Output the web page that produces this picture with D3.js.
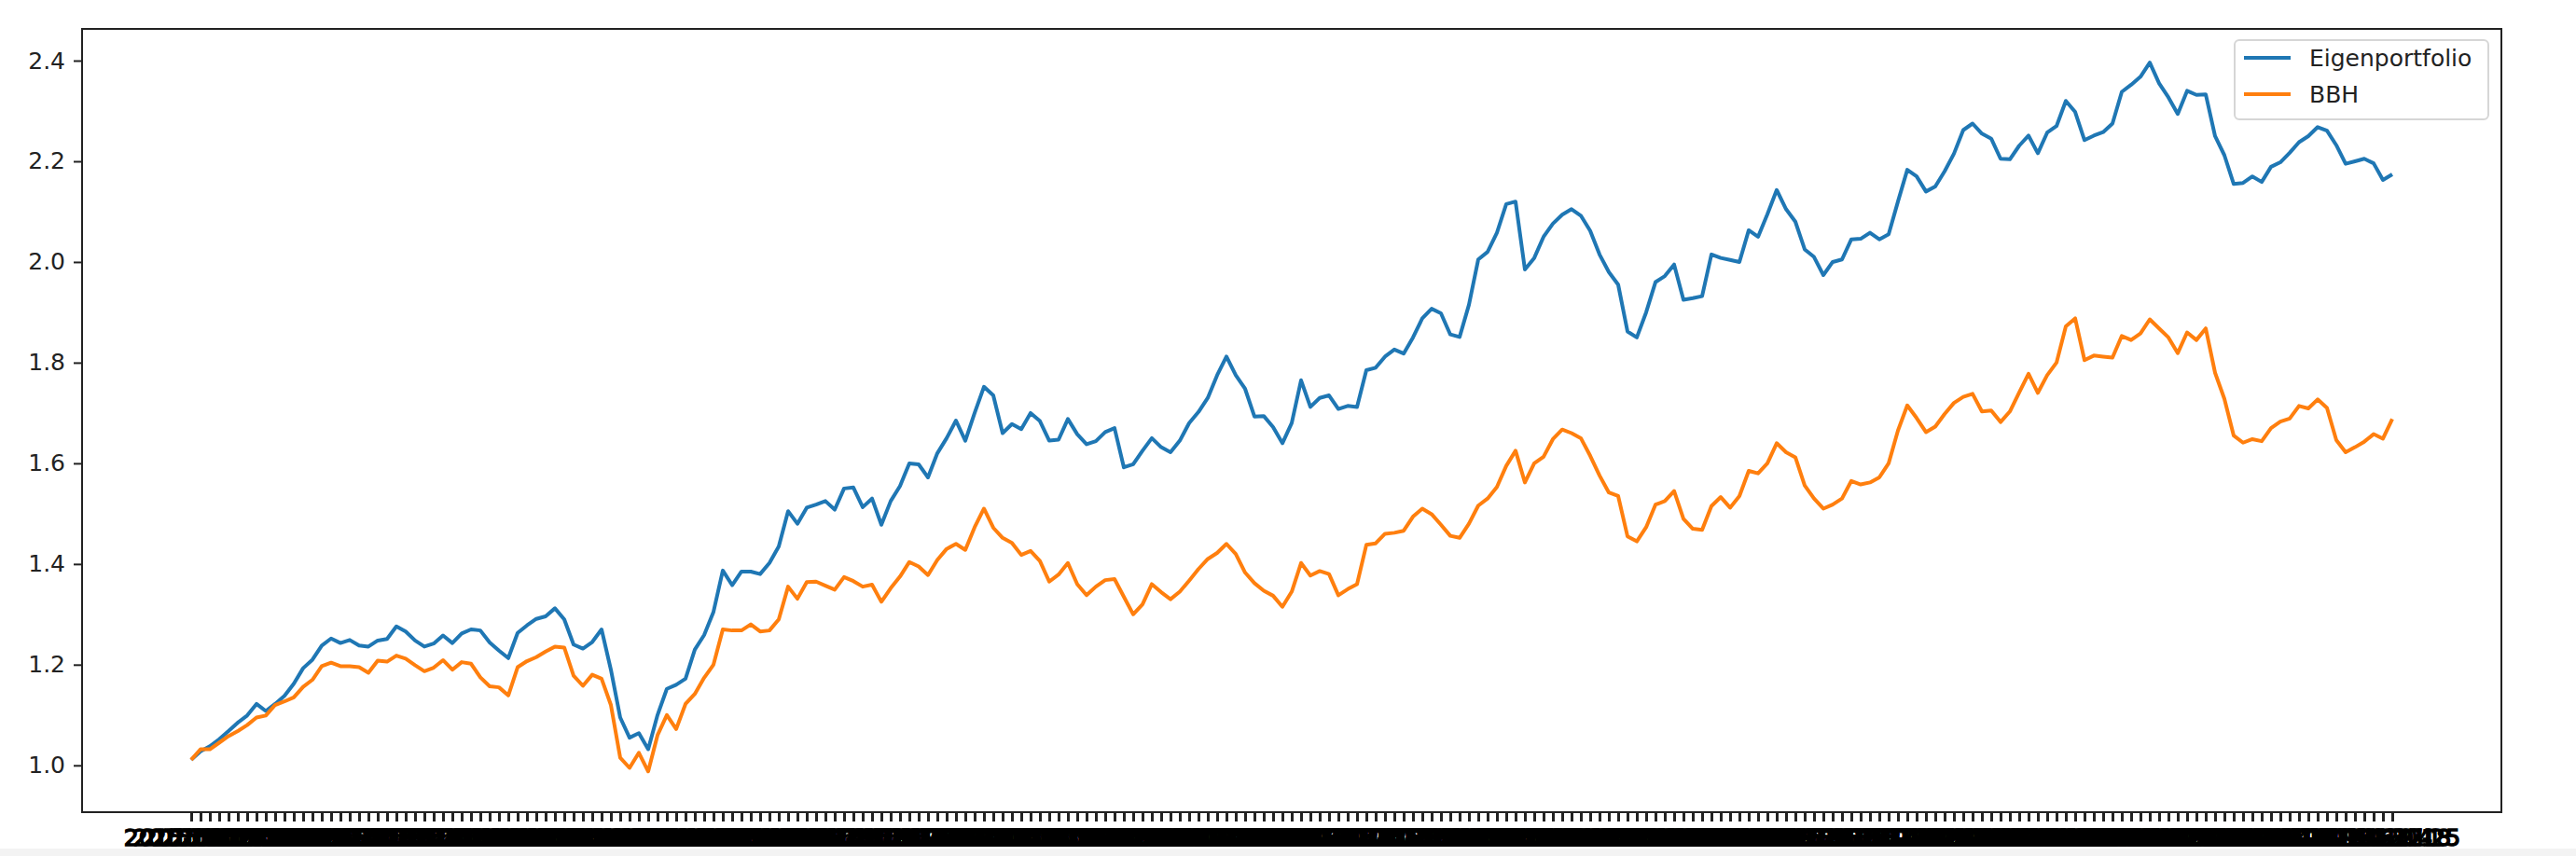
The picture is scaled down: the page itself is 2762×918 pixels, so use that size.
<!DOCTYPE html>
<html>
<head>
<meta charset="utf-8">
<script src="https://cdn.jsdelivr.net/npm/d3@7"></script>
<style>
    body { margin: 0; background: #fff; }
    text { font-family: "DejaVu Sans", sans-serif; }
</style>
</head>
<body>
<script>
// series names + colours (matplotlib defaults)
let names = ["Eigenportfolio", "BBH"];
let colors = ["#1f77b4", "#ff7f0e"];

// cumulative value, one point per week
let eigen = [
    1.011,1.028,1.038,1.052,1.068,1.085,1.099,1.122,1.108,1.122,
    1.138,1.162,1.193,1.210,1.238,1.252,1.243,1.249,1.238,1.236,
    1.248,1.251,1.276,1.266,1.248,1.236,1.242,1.258,1.243,1.262,
    1.270,1.268,1.244,1.228,1.213,1.263,1.278,1.291,1.296,1.312,
    1.290,1.240,1.232,1.245,1.270,1.190,1.095,1.055,1.064,1.032,
    1.100,1.152,1.160,1.172,1.230,1.259,1.305,1.387,1.358,1.385,
    1.385,1.380,1.402,1.435,1.505,1.480,1.512,1.518,1.525,1.508,
    1.550,1.552,1.513,1.530,1.478,1.525,1.555,1.600,1.598,1.572,
    1.620,1.650,1.685,1.645,1.700,1.752,1.735,1.660,1.678,1.668,
    1.700,1.684,1.645,1.647,1.688,1.658,1.638,1.644,1.662,1.670,
    1.592,1.598,1.625,1.650,1.632,1.622,1.645,1.680,1.702,1.730,
    1.775,1.812,1.775,1.748,1.693,1.694,1.672,1.640,1.680,1.765,
    1.712,1.730,1.735,1.708,1.714,1.712,1.785,1.790,1.812,1.826,
    1.818,1.850,1.888,1.907,1.898,1.856,1.851,1.915,2.005,2.020,
    2.058,2.115,2.120,1.985,2.008,2.050,2.076,2.094,2.105,2.092,
    2.062,2.015,1.980,1.955,1.862,1.850,1.900,1.960,1.972,1.995,
    1.925,1.928,1.932,2.015,2.008,2.004,2.000,2.063,2.050,2.095,
    2.143,2.105,2.080,2.025,2.010,1.974,2.000,2.005,2.045,2.046,
    2.058,2.045,2.055,2.120,2.183,2.170,2.140,2.150,2.180,2.215,
    2.262,2.275,2.255,2.245,2.205,2.204,2.231,2.251,2.216,2.257,
    2.270,2.320,2.298,2.242,2.251,2.258,2.275,2.338,2.352,2.368,
    2.396,2.355,2.327,2.294,2.340,2.332,2.333,2.250,2.212,2.155,
    2.157,2.170,2.159,2.189,2.198,2.217,2.238,2.250,2.268,2.261,
    2.232,2.195,2.200,2.205,2.196,2.163,2.174
];

let bbh = [
    1.011,1.032,1.032,1.045,1.058,1.068,1.080,1.095,1.099,1.120,
    1.127,1.135,1.156,1.170,1.197,1.204,1.197,1.197,1.195,1.184,
    1.208,1.206,1.218,1.212,1.199,1.187,1.194,1.209,1.190,1.205,
    1.202,1.175,1.157,1.155,1.139,1.195,1.207,1.215,1.226,1.236,
    1.234,1.178,1.158,1.180,1.172,1.120,1.015,0.995,1.025,0.988,
    1.060,1.100,1.072,1.122,1.142,1.174,1.200,1.270,1.268,1.268,
    1.280,1.266,1.268,1.290,1.355,1.331,1.364,1.365,1.357,1.349,
    1.374,1.366,1.355,1.359,1.325,1.352,1.375,1.404,1.395,1.378,
    1.408,1.430,1.440,1.428,1.473,1.510,1.472,1.452,1.442,1.418,
    1.426,1.406,1.365,1.379,1.402,1.360,1.338,1.355,1.368,1.370,
    1.335,1.300,1.320,1.360,1.344,1.330,1.345,1.367,1.390,1.410,
    1.422,1.440,1.420,1.383,1.362,1.347,1.337,1.315,1.345,1.402,
    1.377,1.386,1.380,1.338,1.350,1.360,1.438,1.441,1.460,1.462,
    1.466,1.494,1.510,1.499,1.478,1.456,1.452,1.480,1.516,1.530,
    1.553,1.595,1.625,1.562,1.600,1.613,1.648,1.667,1.660,1.650,
    1.615,1.576,1.542,1.535,1.455,1.445,1.473,1.518,1.525,1.545,
    1.490,1.470,1.468,1.515,1.533,1.512,1.535,1.585,1.580,1.600,
    1.640,1.622,1.612,1.556,1.530,1.510,1.518,1.530,1.565,1.558,
    1.562,1.572,1.600,1.665,1.715,1.690,1.662,1.673,1.698,1.720,
    1.732,1.738,1.703,1.705,1.682,1.703,1.741,1.778,1.740,1.775,
    1.800,1.872,1.888,1.805,1.814,1.812,1.810,1.853,1.845,1.858,
    1.886,1.868,1.850,1.819,1.860,1.845,1.868,1.780,1.728,1.655,
    1.641,1.648,1.644,1.670,1.683,1.689,1.714,1.709,1.727,1.710,
    1.646,1.622,1.632,1.643,1.658,1.649,1.688
];

let yTicks = [1.0, 1.2, 1.4, 1.6, 1.8, 2.0, 2.2, 2.4];

// x categories: weekly date strings (unreadable in the original, they overlap)
let fmt = d3.timeFormat("%Y-%m-%d");
let dates = [];
for (let i = 0; i < eigen.length; i++) {
    dates.push(fmt(d3.timeDay.offset(new Date(2015, 5, 17), i * 7)));
}

let w = 2762;
let h = 918;
let padL = 88, padR = 2682, padT = 31, padB = 871;

let svg = d3.select("body")
    .append("svg")
    .attr("width", w)
    .attr("height", h);

svg.append("rect")
    .attr("width", w)
    .attr("height", h)
    .attr("fill", "#fff");

// faint grey strip at the bottom of the screenshot
svg.append("rect")
    .attr("x", 0)
    .attr("y", 910)
    .attr("width", w)
    .attr("height", h - 910)
    .attr("fill", "#f3f3f3");

let x = d3.scalePoint()
    .domain(dates)
    .range([padL, padR])
    .padding(11.7);

let y = d3.scaleLinear()
    .domain([0.907, 2.463])
    .range([padB, padT]);

// y axis
let yAxis = svg.append("g")
    .attr("transform", "translate(" + padL + ",0)")
    .call(d3.axisLeft(y).tickValues(yTicks).tickFormat(d3.format(".1f"))
        .tickSize(9).tickPadding(9));
yAxis.select(".domain").remove();
yAxis.selectAll("line").attr("stroke", "#222").attr("stroke-width", 2);
yAxis.selectAll("text")
    .attr("font-size", "25px")
    .attr("font-family", "DejaVu Sans")
    .attr("fill", "#222");

// x axis: every category gets a tick + label, like the original
let xAxis = svg.append("g")
    .attr("transform", "translate(0," + padB + ")")
    .call(d3.axisBottom(x).tickSize(10).tickPadding(8));
xAxis.select(".domain").remove();
xAxis.selectAll("line").attr("stroke", "#222").attr("stroke-width", 3);
xAxis.selectAll("text")
    .attr("font-size", "25px")
    .attr("font-family", "DejaVu Sans")
    .attr("fill", "#000")
    .attr("stroke", "#000")
    .attr("stroke-width", 1.5);

// lines
let series = [eigen, bbh];
let line = d3.line()
    .x(function(d, i) { return x(dates[i]); })
    .y(function(d) { return y(d); });

for (let k = 0; k < series.length; k++) {
    svg.append("path")
        .datum(series[k])
        .attr("fill", "none")
        .attr("stroke", colors[k])
        .attr("stroke-width", 4)
        .attr("stroke-linejoin", "round")
        .attr("d", line);
}

// frame
svg.append("rect")
    .attr("x", padL)
    .attr("y", padT)
    .attr("width", padR - padL)
    .attr("height", padB - padT)
    .attr("fill", "none")
    .attr("stroke", "#222")
    .attr("stroke-width", 2);

// legend
let lg = svg.append("g").attr("transform", "translate(2396,43)");
lg.append("rect")
    .attr("width", 272)
    .attr("height", 85)
    .attr("rx", 5)
    .attr("ry", 5)
    .attr("fill", "#fff")
    .attr("fill-opacity", 0.8)
    .attr("stroke", "#d6d6d6")
    .attr("stroke-width", 2);

for (let k = 0; k < names.length; k++) {
    let ly = 19 + k * 39;
    lg.append("line")
        .attr("x1", 10)
        .attr("x2", 60)
        .attr("y1", ly)
        .attr("y2", ly)
        .attr("stroke", colors[k])
        .attr("stroke-width", 4);
    lg.append("text")
        .attr("x", 80)
        .attr("y", ly)
        .attr("dy", "0.35em")
        .text(names[k])
        .attr("font-size", "25px")
        .attr("fill", "#222");
}
</script>
</body>
</html>
